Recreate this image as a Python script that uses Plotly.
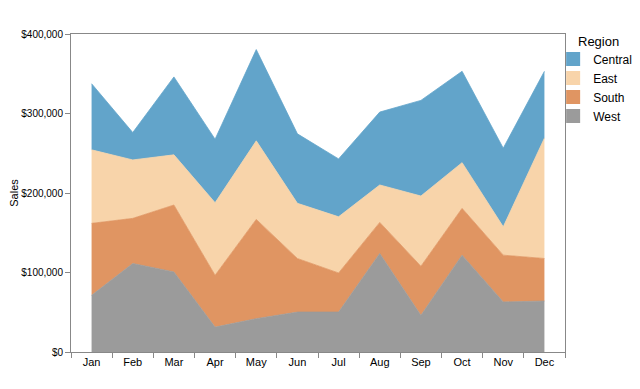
import plotly.graph_objects as go

months = ["Jan", "Feb", "Mar", "Apr", "May", "Jun", "Jul", "Aug", "Sep", "Oct", "Nov", "Dec"]
west = [71300, 111300, 100700, 31300, 41900, 50200, 50200, 123900, 46100, 121800, 62900, 64100]
south = [90500, 56800, 84200, 65200, 124900, 67400, 49200, 39100, 61800, 58900, 58900, 53500]
east = [92500, 73500, 63100, 91300, 98800, 69400, 70700, 47100, 88300, 57500, 35700, 151400]
central = [83200, 34500, 98000, 79900, 114800, 87400, 72800, 91700, 120300, 114900, 98900, 84100]

series = [
    ("West", west, "#9b9b9b"),
    ("South", south, "#e09562"),
    ("East", east, "#f8d4aa"),
    ("Central", central, "#62a4ca"),
]

fig = go.Figure()
for name, vals, col in series:
    fig.add_trace(go.Scatter(
        x=months, y=vals, name=name, mode="lines",
        stackgroup="one", fillcolor=col,
        line=dict(color=col, width=0.8),
        showlegend=False, legendgroup=name,
        hovertemplate="%{x}: %{y:$,.0f}<extra>" + name + "</extra>",
    ))

# legend swatches (square), in legend order
for name, vals, col in reversed(series):
    fig.add_trace(go.Scatter(
        x=[None], y=[None], name=name, mode="markers",
        marker=dict(symbol="square", size=14, color=col),
        legendgroup=name, showlegend=True, hoverinfo="skip",
    ))

# page body adds an 8px offset; margins compensate so the plot sits where the reference has it
W, H = 640, 381
L, T, R, B = 63, 26, 83, 37

fig.update_layout(
    width=W, height=H,
    margin=dict(l=L, r=R, t=T, b=B, autoexpand=False),
    paper_bgcolor="white", plot_bgcolor="white",
    font=dict(family="Liberation Sans, Arial, sans-serif", size=11, color="#000"),
    showlegend=True,
    legend=dict(
        traceorder="normal",
        x=0.976, y=0.967, xanchor="left", yanchor="top",
        font=dict(size=12),
        itemsizing="trace",
        itemwidth=30,
        tracegroupgap=0,
        borderwidth=0,
        bgcolor="rgba(0,0,0,0)",
    ),
    annotations=[dict(
        text="Region", xref="paper", yref="paper",
        x=1.0243, y=0.975, xanchor="left", yanchor="middle",
        showarrow=False, font=dict(size=13), borderpad=0,
    )],
)
fig.update_xaxes(
    type="category", range=[-0.5, 11.5],
    tickson="boundaries", ticks="outside", ticklen=5, tickcolor="#888",
    showline=True, linecolor="#888", linewidth=1, mirror=True,
    showgrid=False, zeroline=False, automargin=False,
    tickfont=dict(size=11),
)
fig.update_yaxes(
    range=[0, 400000], tickvals=[0, 100000, 200000, 300000, 400000],
    tickformat="$,.0f", ticks="outside", ticklen=5, tickcolor="#888",
    showline=True, linecolor="#888", linewidth=1, mirror=True,
    showgrid=False, zeroline=False, automargin=True,
    title=dict(text="Sales", font=dict(size=11), standoff=6),
    tickfont=dict(size=10),
)

fig.write_html("out.html")
